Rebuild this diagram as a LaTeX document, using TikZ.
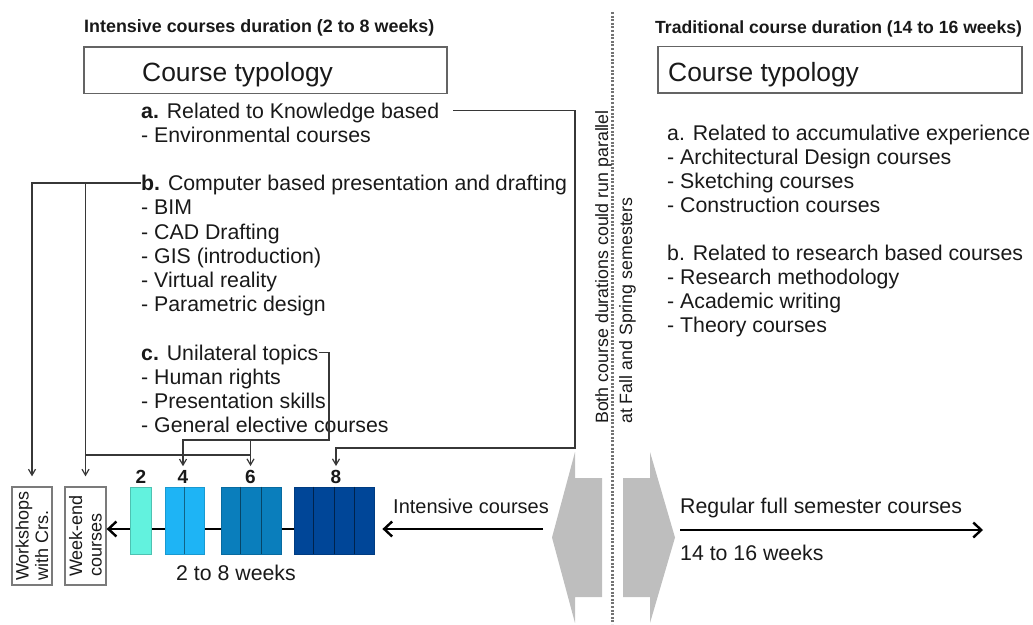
\documentclass[tikz,border=0pt]{standalone}
\usepackage{fontspec}
\setmainfont{Liberation Sans}
\usetikzlibrary{arrows.meta,calc}
\definecolor{cTwo}{RGB}{98,242,222}
\definecolor{cFour}{RGB}{30,180,245}
\definecolor{cSix}{RGB}{10,126,188}
\definecolor{cEight}{RGB}{0,70,152}
\definecolor{lineGray}{RGB}{55,55,55}
\definecolor{boxGray}{RGB}{100,100,100}
\definecolor{shapeGray}{RGB}{190,190,190}
\definecolor{dotGray}{RGB}{115,115,115}
\begin{document}
\begin{tikzpicture}[x=1pt,y=-1pt,
 every node/.style={inner sep=0pt, text=black!90},
 lst/.style={anchor=base west, font=\fontsize{21.3}{24}\selectfont, text height=15.3pt, text depth=0pt},
 ttl/.style={anchor=base west, font=\fontsize{17.9}{20}\selectfont\bfseries},
 typ/.style={anchor=base west, font=\fontsize{26.4}{30}\selectfont},
 tbox/.style={draw=boxGray, line width=1.5pt, minimum height=46.5pt},
 vbox/.style={draw=boxGray!85, line width=1.3pt, minimum width=40pt, minimum height=98pt},
 vtxt/.style={rotate=90, align=left, font=\fontsize{18}{19.5}\selectfont},
 conn/.style={draw=lineGray, line width=1.2pt, -{Straight Barb[length=6pt,width=7pt]}},
 plain/.style={draw=lineGray, line width=1.2pt},
 mainarr/.style={draw=black, line width=2.4pt, -{Straight Barb[length=8pt,width=15pt]}},
 blk/.style={minimum height=67pt, line width=0.8pt},
 num/.style={anchor=base, font=\fontsize{19}{22}\selectfont\bfseries},
 lbl/.style={anchor=base west, font=\fontsize{21.3}{24}\selectfont},
 rot/.style={rotate=90, anchor=base west, font=\fontsize{17.8}{20}\selectfont},
]
\useasboundingbox (0,0) rectangle (1033,624);

% gray double-arrow shapes and dotted separator
\fill[shapeGray] (575,452) -- (552,537.5) -- (575,623) -- (575,597) -- (602,597) -- (602,478) -- (575,478) -- cycle;
\fill[shapeGray] (650,452) -- (675,537.5) -- (650,623) -- (650,597) -- (623,597) -- (623,478) -- (650,478) -- cycle;
\draw[dotGray, line width=2.6pt, dash pattern=on 2pt off 1.6pt] (612.7,12) -- (612.7,624);

% titles and boxes
\node[ttl] (ltitle) at (84,32.5) {Intensive courses duration (2 to 8 weeks)};
\node[ttl, font=\fontsize{17.6}{20}\selectfont\bfseries] (rtitle) at (655,33) {Traditional course duration (14 to 16 weeks)};
\node[tbox, minimum width=363pt] (lbox) at (265.5,70) {};
\node[tbox, minimum width=364pt] (rbox) at (840,69.7) {};
\node[typ] (ltyp) at (142,81.5) {Course typology};
\node[typ] (rtyp) at (668,81.5) {Course typology};

% left list
\node[lst] (a)  at (141,118)   {\textbf{a.} Related to Knowledge based};
\node[lst] (a1) at (141,142.2) {- Environmental courses};
\node[lst] (b)  at (141,190.6) {\textbf{b.} Computer based presentation and drafting};
\node[lst] (b1) at (141,214.8) {- BIM};
\node[lst] (b2) at (141,239)   {- CAD Drafting};
\node[lst] (b3) at (141,263.2) {- GIS (introduction)};
\node[lst] (b4) at (141,287.4) {- Virtual reality};
\node[lst] (b5) at (141,311.6) {- Parametric design};
\node[lst] (c)  at (141,360)   {\textbf{c.} Unilateral topics};
\node[lst] (c1) at (141,384.2) {- Human rights};
\node[lst] (c2) at (141,408.4) {- Presentation skills};
\node[lst] (c3) at (141,432.6) {- General elective courses};

% right list
\node[lst] (ra)  at (667,140)   {a. Related to accumulative experience};
\node[lst] (ra1) at (667,164.1) {- Architectural Design courses};
\node[lst] (ra2) at (667,188.2) {- Sketching courses};
\node[lst] (ra3) at (667,212.3) {- Construction courses};
\node[lst] (rb)  at (667,260.5) {b. Related to research based courses};
\node[lst] (rb1) at (667,284.6) {- Research methodology};
\node[lst] (rb2) at (667,308.7) {- Academic writing};
\node[lst] (rb3) at (667,332.8) {- Theory courses};

% rotated note
\node[rot] (par1) at (608,424) {Both course durations could run parallel};
\node[rot] (par2) at (632,424) {at Fall and Spring semesters};

% vertical boxes
\node[vbox] (wk) at (32,536) {};
\node[vtxt] (wkt) at (wk.center) {Workshops\\with Crs.};
\node[vbox, minimum width=41pt] (we) at (85.5,536) {};
\node[vtxt] (wet) at (we.center) {Week-end\\courses};

% axis line and blocks
\coordinate (axis) at (0,529);
\coordinate (ic) at (543,529);
\node[blk, minimum width=80pt] (k8) at (334,520.5) {};
\draw[mainarr] (k8.west |- axis) -- (we.east |- axis);
\node[blk, fill=cTwo, draw=cTwo!80!black, minimum width=21pt] (k2) at (140.5,520.5) {};
\node[blk, fill=cFour, draw=cFour!85!black, minimum width=39pt] (k4) at (184.5,520.5) {};
\node[blk, fill=cSix, draw=cSix!85!black, minimum width=60pt] (k6) at (251,520.5) {};
\node[blk, fill=cEight, draw=cEight!85!black, minimum width=80pt] (k8b) at (334,520.5) {};
\draw[cFour!55!black, line width=0.8pt] (k4.north) -- (k4.south);
\foreach \f in {1,2} \draw[cSix!55!black, line width=0.8pt] ($(k6.north west)!\f/3!(k6.north east)$) -- ($(k6.south west)!\f/3!(k6.south east)$);
\foreach \f in {1,2,3} \draw[cEight!50!black, line width=0.8pt] ($(k8b.north west)!\f/4!(k8b.north east)$) -- ($(k8b.south west)!\f/4!(k8b.south east)$);

\node[num] (n2) at (141,483.5) {2};
\node[num] (n4) at (183,483.5) {4};
\node[num] (n6) at (250.5,483.5) {6};
\node[num] (n8) at (336,483.5) {8};
\node[lbl, anchor=base] (wks) at (236,580) {2 to 8 weeks};

% main arrows
\node[anchor=base west, font=\fontsize{20}{24}\selectfont] (int) at (393,513) {Intensive courses};
\draw[mainarr] (ic) -- ([xshift=8pt]k8b.east |- ic);
\coordinate (rs) at (680,530);
\coordinate (re) at (983,530);
\node[lbl] (reg) at (680,513) {Regular full semester courses};
\node[lbl] (reg2) at (680,560) {14 to 16 weeks};
\draw[mainarr] (rs) -- (re);

% connectors
\coordinate (ab) at (575,448);
\coordinate (cb) at (329,440);
\coordinate (bj) at (0,455);
\draw[conn, shorten >=10pt] (b.west) -| (wk.north);
\draw[conn, shorten >=10pt] (b.west -| we.north) -- (we.north);
\draw[plain] (we.north |- bj) -- (n6.north |- bj);
\draw[conn, shorten >=4pt] (c.east) -| (cb) -| (n4.north);
\draw[conn, shorten >=4pt] (cb -| n6.north) -- (n6.north);
\draw[conn, shorten >=4pt] ([xshift=14pt]a.east) -| (ab) -| (n8.north);
\end{tikzpicture}
\end{document}
